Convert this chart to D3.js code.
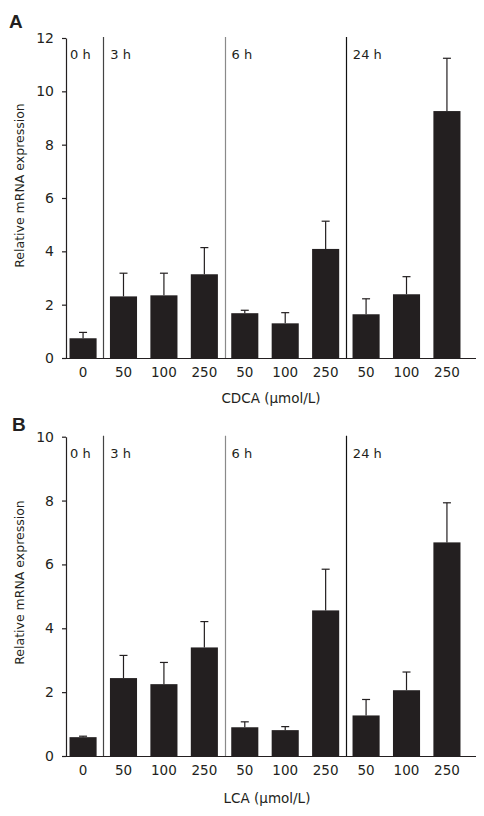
<!DOCTYPE html>
<html><head><meta charset="utf-8">
<script src="https://cdn.jsdelivr.net/npm/d3@7"></script>
<style>
body{margin:0;background:#fff;}
text{font-family:"DejaVu Sans",Verdana,sans-serif;fill:#231f20;}
</style></head>
<body>
<svg id="c" width="484" height="816"></svg>
<script>
const categories = ["0","50","100","250","50","100","250","50","100","250"];
const groupLabels = ["0 h","3 h","6 h","24 h"];
const groupStarts = [0,1,4,7];
const cdcaMean = [0.74,2.31,2.35,3.14,1.68,1.30,4.09,1.64,2.39,9.26];
const cdcaErr  = [0.22,0.87,0.83,1.00,0.11,0.40,1.04,0.58,0.66,1.98];
const lcaMean  = [0.59,2.44,2.25,3.40,0.90,0.81,4.56,1.27,2.06,6.69];
const lcaErr   = [0.03,0.71,0.68,0.81,0.17,0.11,1.29,0.50,0.57,1.24];
const cdcaTicks = [0,2,4,6,8,10,12];
const lcaTicks = [0,2,4,6,8,10];

const svg = d3.select("#c");
const ink = "#231f20";

function panel(o){
  const g = svg.append("g");
  const y = d3.scaleLinear().domain([0,o.max]).range([o.y0,o.y1]);
  const x = d3.scaleBand().domain(d3.range(categories.length)).range([66,464]).paddingInner(0.33).paddingOuter(0.087);
  // panel letter
  g.append("text").attr("x",o.lx).attr("y",o.ly).attr("font-size",19).attr("font-weight","bold")
    .style("font-family","Liberation Sans, Arial, sans-serif").text(o.letter);
  // bars
  g.selectAll("rect.bar").data(o.mean).join("rect")
    .attr("x",(d,i)=>x(i)).attr("width",x.bandwidth())
    .attr("y",d=>y(d)).attr("height",d=>y(0)-y(d)).attr("fill",ink);
  // error bars
  const eg = g.selectAll("g.err").data(o.mean).join("g");
  eg.append("line").attr("x1",(d,i)=>x(i)+x.bandwidth()/2).attr("x2",(d,i)=>x(i)+x.bandwidth()/2)
    .attr("y1",d=>y(d)).attr("y2",(d,i)=>y(d+o.err[i])).attr("stroke",ink).attr("stroke-width",1.2);
  eg.append("line").attr("x1",(d,i)=>x(i)+x.bandwidth()/2-4).attr("x2",(d,i)=>x(i)+x.bandwidth()/2+4)
    .attr("y1",(d,i)=>y(d+o.err[i])).attr("y2",(d,i)=>y(d+o.err[i])).attr("stroke",ink).attr("stroke-width",1.2);
  // dividers
  const step = x.step();
  const divCols = ["#444","#8a8a8a","#111"];
  groupStarts.slice(1).forEach((s,k)=>{
    const xx = Math.round(x(s) - (step - x.bandwidth())/2)+0.5;
    g.append("line").attr("x1",xx).attr("x2",xx).attr("y1",o.y1-1).attr("y2",y(0))
      .attr("stroke",divCols[k]).attr("stroke-width",1.2);
  });
  // group labels
  groupStarts.forEach((s,k)=>{
    const xx = k===0 ? 70 : x(s) - (step - x.bandwidth())/2 + 7;
    g.append("text").attr("x",xx).attr("y",o.y1+21).attr("font-size",13).text(groupLabels[k]);
  });
  // y axis
  const ya = g.append("g").attr("transform","translate(66,0)")
    .call(d3.axisLeft(y).tickValues(o.ticks).tickSize(4).tickPadding(8).tickSizeOuter(0));
  ya.select(".domain").attr("stroke",ink).attr("stroke-width",1.2);
  ya.selectAll(".tick line").attr("stroke",ink).attr("stroke-width",1.2);
  ya.selectAll(".tick text").attr("font-size",14).style("font-family","DejaVu Sans").attr("fill",ink);
  // x axis
  g.append("line").attr("x1",66).attr("x2",476).attr("y1",y(0)+0.5).attr("y2",y(0)+0.5).attr("stroke",ink).attr("stroke-width",1.2);
  const xa = g.append("g").attr("transform",`translate(0,${y(0)})`)
    .call(d3.axisBottom(x).tickFormat(i=>categories[i]).tickSize(0).tickPadding(9));
  xa.select(".domain").remove();
  xa.selectAll(".tick text").attr("font-size",13.5).style("font-family","DejaVu Sans").attr("fill",ink);
  // axis titles
  g.append("text").attr("transform",`translate(24,${o.ycap}) rotate(-90)`).attr("text-anchor","middle")
    .attr("font-size",12.5).text("Relative mRNA expression");
  g.append("text").attr("x",o.tx).attr("y",o.ty).attr("text-anchor","middle").attr("font-size",13.5).text(o.title);
}

panel({letter:"A",lx:9,ly:28,max:12,y0:358,y1:38,mean:cdcaMean,err:cdcaErr,ticks:cdcaTicks,
  ycap:185.5,title:"CDCA (\u03bcmol/L)",tx:271,ty:403});
panel({letter:"B",lx:12,ly:431,max:10,y0:756,y1:436.7,mean:lcaMean,err:lcaErr,ticks:lcaTicks,
  ycap:582.5,title:"LCA (\u03bcmol/L)",tx:267,ty:803});
</script>
</body></html>
